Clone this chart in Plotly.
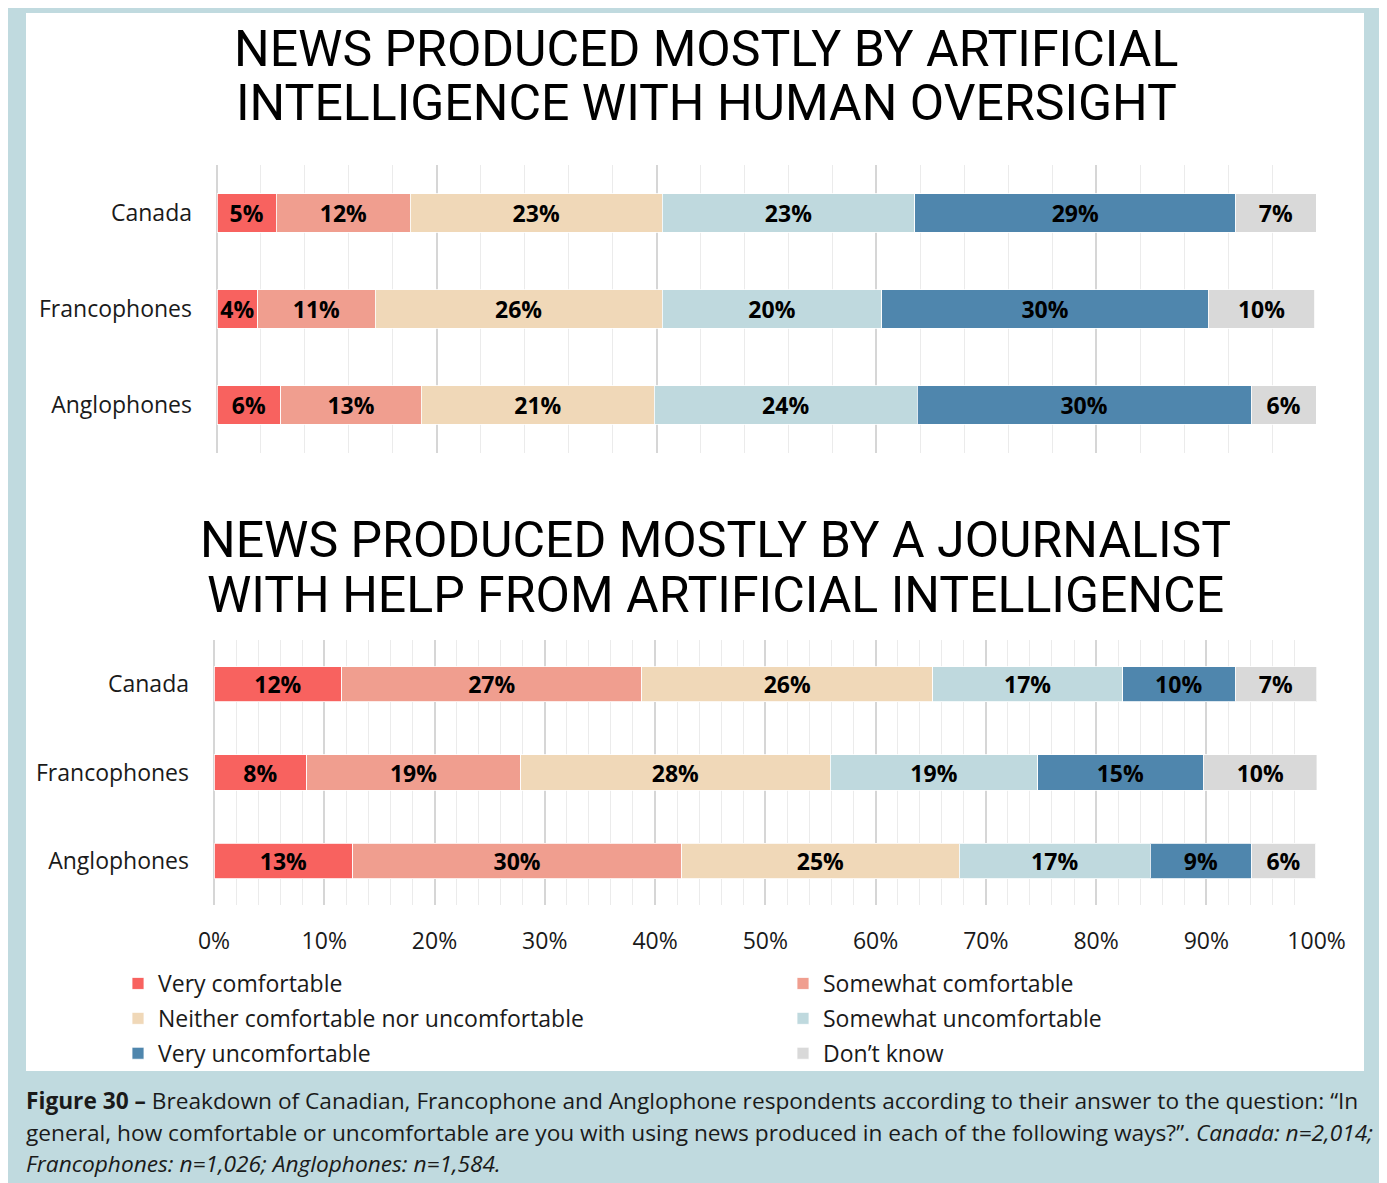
import plotly.graph_objects as go
from plotly.subplots import make_subplots

W, H = 1387, 1183

groups = ["Canada", "Francophones", "Anglophones"]
responses = [
    "Very comfortable",
    "Somewhat comfortable",
    "Neither comfortable nor uncomfortable",
    "Somewhat uncomfortable",
    "Very uncomfortable",
    "Don’t know",
]
colors = ["#F8625F", "#F09E8F", "#F0D8B8", "#BFD9DE", "#4F86AD", "#D9D9D9"]

# News produced mostly by AI with human oversight (% per group)
ai_very_comf = [5.4, 3.7, 5.8]
ai_somewhat_comf = [12.2, 10.7, 12.8]
ai_neither = [22.9, 26.1, 21.2]
ai_somewhat_uncomf = [23.0, 20.0, 23.9]
ai_very_uncomf = [29.2, 29.7, 30.4]
ai_dont_know = [7.3, 9.7, 5.9]

# News produced mostly by a journalist with help from AI (% per group)
jr_very_comf = [11.6, 8.4, 12.6]
jr_somewhat_comf = [27.2, 19.4, 29.8]
jr_neither = [26.4, 28.1, 25.2]
jr_somewhat_uncomf = [17.2, 18.8, 17.3]
jr_very_uncomf = [10.2, 15.0, 9.2]
jr_dont_know = [7.4, 10.4, 5.8]

tick_vals = [0, 10, 20, 30, 40, 50, 60, 70, 80, 90, 100]
tick_text = ["0%", "10%", "20%", "30%", "40%", "50%", "60%", "70%", "80%", "90%", "100%"]

ai_series = [ai_very_comf, ai_somewhat_comf, ai_neither, ai_somewhat_uncomf, ai_very_uncomf, ai_dont_know]
jr_series = [jr_very_comf, jr_somewhat_comf, jr_neither, jr_somewhat_uncomf, jr_very_uncomf, jr_dont_know]

# page body adds an 8px margin, so lay things out 8px up/left
OFF = 8


def px(x):
    return (x - OFF) / W


def py(y):
    return 1 - (y - OFF) / H


FONT = "Open Sans"
TXT = "#1a1a1a"

fig = make_subplots(rows=2, cols=1)

for i, name in enumerate(responses):
    leg = "legend" if i % 2 == 0 else "legend2"
    for row, series in ((1, ai_series), (2, jr_series)):
        fig.add_trace(
            go.Bar(
                x=series[i],
                y=groups,
                orientation="h",
                name=name,
                legendgroup=name,
                legend=leg,
                showlegend=(row == 1),
                marker=dict(color=colors[i], line=dict(color="rgba(255,255,255,0.8)", width=1)),
                texttemplate="%{x:.0f}%",
                textposition="inside",
                insidetextanchor="middle",
                textangle=0,
                textfont=dict(family=FONT, size=23, color="black", weight="bold"),
                hoverinfo="skip",
            ),
            row=row,
            col=1,
        )

legend_style = dict(
    xanchor="left", yanchor="top", orientation="v",
    traceorder="grouped", tracegroupgap=2,
    font=dict(family=FONT, size=23, color=TXT), bgcolor="rgba(0,0,0,0)",
)

fig.update_layout(
    width=W,
    height=H,
    margin=dict(l=0, r=0, t=0, b=0, autoexpand=False),
    paper_bgcolor="#C0DADF",
    plot_bgcolor="white",
    barmode="stack",
    bargap=0.6,
    uniformtext=dict(minsize=23, mode="show"),
    font=dict(family=FONT, color=TXT),
    legend=dict(x=px(118), y=py(962), **legend_style),
    legend2=dict(x=px(783), y=py(962), **legend_style),
)

grid_major = dict(gridcolor="#D6D6D6", gridwidth=2, zeroline=True, zerolinecolor="#D6D6D6", zerolinewidth=2)

fig.update_xaxes(
    row=1, col=1, domain=[px(217), px(1316)], range=[0, 100],
    tick0=0, dtick=20, showticklabels=False, showline=False, automargin=False,
    minor=dict(dtick=4, tick0=0, showgrid=True, gridcolor="#EBEBEB", gridwidth=1),
    **grid_major,
)
fig.update_xaxes(
    row=2, col=1, domain=[px(214), px(1316.6)], range=[0, 100],
    tickmode="array", tickvals=tick_vals, ticktext=tick_text,
    tickfont=dict(family=FONT, size=23, color=TXT), ticklabelstandoff=20,
    showline=False, automargin=False,
    minor=dict(dtick=2, tick0=0, showgrid=True, gridcolor="#EBEBEB", gridwidth=1),
    **grid_major,
)
fig.update_yaxes(
    row=1, col=1, domain=[py(453), py(165)], range=[2.5, -0.5],
    tickfont=dict(family=FONT, size=23, color=TXT), ticklabelstandoff=24,
    showgrid=False, automargin=False,
)
fig.update_yaxes(
    row=2, col=1, domain=[py(905), py(640)], range=[2.5, -0.5],
    tickfont=dict(family=FONT, size=23, color=TXT), ticklabelstandoff=24,
    showgrid=False, automargin=False,
)

# white panel behind the charts
fig.add_shape(
    type="rect", xref="paper", yref="paper",
    x0=px(26), x1=px(1364), y0=py(1071), y1=py(13),
    fillcolor="white", line=dict(width=0), layer="below",
)

titles = [
    ("NEWS PRODUCED MOSTLY BY ARTIFICIAL", 706, 49),
    ("INTELLIGENCE WITH HUMAN OVERSIGHT", 706, 103),
    ("NEWS PRODUCED MOSTLY BY A JOURNALIST", 715, 540),
    ("WITH HELP FROM ARTIFICIAL INTELLIGENCE", 715, 595),
]
for text, x, y in titles:
    fig.add_annotation(
        text=text, x=px(x), y=py(y), xref="paper", yref="paper",
        xanchor="center", yanchor="middle", showarrow=False,
        font=dict(family="Roboto", size=50, color="black"),
    )

caption = [
    ("<b>Figure 30 –</b> Breakdown of Canadian, Francophone and Anglophone respondents according to their answer to the question: “In", 1100),
    ("general, how comfortable or uncomfortable are you with using news produced in each of the following ways?”. <i>Canada: n=2,014;</i>", 1132),
    ("<i>Francophones: n=1,026; Anglophones: n=1,584.</i>", 1163),
]
for text, y in caption:
    fig.add_annotation(
        text=text, x=px(24), y=py(y), xref="paper", yref="paper",
        xanchor="left", yanchor="middle", showarrow=False,
        font=dict(family=FONT, size=22.7, color=TXT),
    )

fig.write_html("out.html")
